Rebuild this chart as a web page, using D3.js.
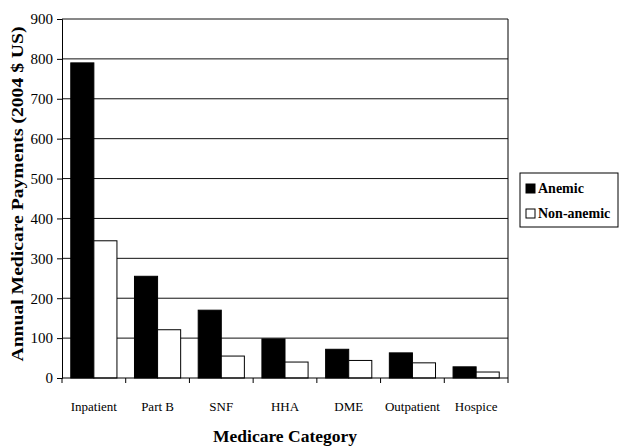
<!DOCTYPE html>
<html>
<head>
<meta charset="utf-8">
<script src="https://cdn.jsdelivr.net/npm/d3@7"></script>
<style>
  body { margin: 0; background: #fff; }
  svg text { font-family: "Liberation Serif", "Times New Roman", serif; fill: #000; }
</style>
</head>
<body>
<script>
var categories = ['Inpatient', 'Part B', 'SNF', 'HHA', 'DME', 'Outpatient', 'Hospice'];
var anemic = [790, 255, 170, 98, 72, 63, 28];
var nonAnemic = [344, 121, 55, 40, 44, 38, 15];
var seriesNames = ['Anemic', 'Non-anemic'];
var yTicks = [0, 100, 200, 300, 400, 500, 600, 700, 800, 900];

var W = 620, H = 448,
    m = {left: 62, right: 112, top: 19, bottom: 70};

var svg = d3.select('body').append('svg')
    .attr('width', W)
    .attr('height', H);

var x = d3.scaleBand()
    .domain(categories)
    .range([m.left, W - m.right]);

var inner = d3.scaleBand()
    .domain(seriesNames)
    .range([0, x.bandwidth()])
    .paddingOuter(0.38)
    .paddingInner(0);

var y = d3.scaleLinear()
    .domain([0, 900])
    .range([H - m.bottom, m.top]);

// gridlines
svg.append('g')
    .selectAll('line')
    .data(yTicks.slice(1))
    .join('line')
    .attr('x1', m.left).attr('x2', W - m.right)
    .attr('y1', function(d) { return y(d); })
    .attr('y2', function(d) { return y(d); })
    .attr('stroke', '#111')
    .attr('stroke-width', 1);

// right border
svg.append('line')
    .attr('x1', W - m.right).attr('x2', W - m.right)
    .attr('y1', m.top).attr('y2', H - m.bottom)
    .attr('stroke', '#000');

var rows = categories.map(function(c, i) {
    return {cat: c, vals: [anemic[i], nonAnemic[i]]};
});

var groups = svg.append('g')
    .selectAll('g')
    .data(rows)
    .join('g')
    .attr('transform', function(d) { return 'translate(' + x(d.cat) + ',0)'; });

groups.selectAll('rect')
    .data(function(d) { return d.vals.map(function(v, j) { return {s: seriesNames[j], v: v}; }); })
    .join('rect')
    .attr('x', function(d) { return inner(d.s); })
    .attr('width', inner.bandwidth())
    .attr('y', function(d) { return y(d.v); })
    .attr('height', function(d) { return y(0) - y(d.v); })
    .attr('fill', function(d) { return d.s === 'Anemic' ? '#000' : '#fff'; })
    .attr('stroke', '#000')
    .attr('stroke-width', 1);

// y axis
var yAxis = svg.append('g')
    .attr('transform', 'translate(' + m.left + ',0)')
    .call(d3.axisLeft(y).tickValues(yTicks).tickSize(5).tickPadding(4));
yAxis.selectAll('text')
    .style('font-size', '15px');

// x axis, ticks at category boundaries
var xAxis = svg.append('g')
    .attr('transform', 'translate(0,' + (H - m.bottom) + ')');
xAxis.append('line')
    .attr('x1', m.left).attr('x2', W - m.right)
    .attr('stroke', '#000');
xAxis.selectAll('line.tk')
    .data(categories.concat(['end']))
    .join('line')
    .attr('class', 'tk')
    .attr('x1', function(d, i) { return m.left + i * x.step(); })
    .attr('x2', function(d, i) { return m.left + i * x.step(); })
    .attr('y1', 0).attr('y2', 5)
    .attr('stroke', '#000');
xAxis.selectAll('text')
    .data(categories)
    .join('text')
    .attr('x', function(d) { return x(d) + x.bandwidth() / 2; })
    .attr('y', 33)
    .attr('text-anchor', 'middle')
    .style('font-size', '13px')
    .text(function(d) { return d; });

// axis titles
svg.append('text')
    .attr('transform', 'translate(' + 23 + ',' + 194 + ') rotate(-90)')
    .attr('text-anchor', 'middle')
    .style('font-size', '16px')
    .style('font-weight', 'bold')
    .attr('textLength', 335)
    .attr('lengthAdjust', 'spacingAndGlyphs')
    .text('Annual Medicare Payments (2004 $ US)');

svg.append('text')
    .attr('x', (m.left + W - m.right) / 2)
    .attr('y', 442)
    .attr('text-anchor', 'middle')
    .style('font-size', '16px')
    .style('font-weight', 'bold')
    .attr('textLength', 144)
    .attr('lengthAdjust', 'spacingAndGlyphs')
    .text('Medicare Category');

// legend
var lg = svg.append('g').attr('transform', 'translate(520,173)');
lg.append('rect')
    .attr('width', 98).attr('height', 54)
    .attr('fill', '#fff').attr('stroke', '#000');
var li = lg.selectAll('g')
    .data(seriesNames)
    .join('g')
    .attr('transform', function(d, i) { return 'translate(6,' + (20 + i * 25) + ')'; });
li.append('rect')
    .attr('y', -9).attr('width', 9).attr('height', 9)
    .attr('fill', function(d) { return d === 'Anemic' ? '#000' : '#fff'; })
    .attr('stroke', '#000');
li.append('text')
    .attr('x', 12).attr('y', 0)
    .style('font-size', '14px')
    .style('font-weight', 'bold')
    .text(function(d) { return d; });
</script>
</body>
</html>
